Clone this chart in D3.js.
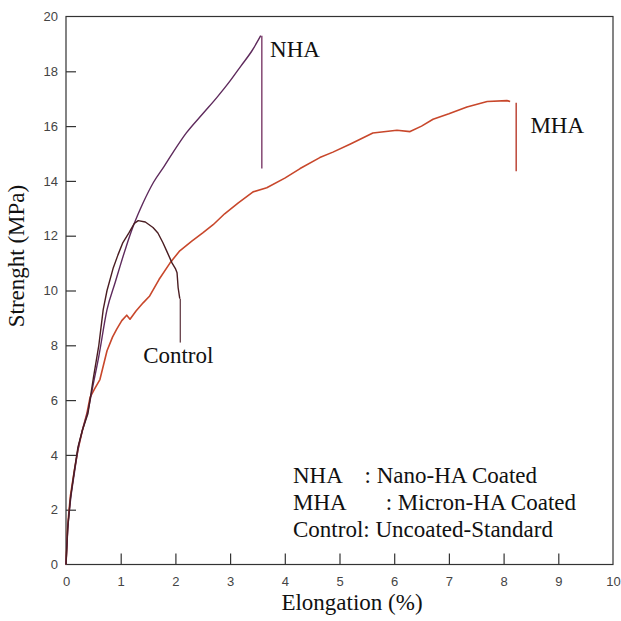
<!DOCTYPE html>
<html><head><meta charset="utf-8">
<script src="https://cdn.jsdelivr.net/npm/d3@7"></script>
<style>body{margin:0;background:#fff}</style>
</head><body>
<svg id="c" width="621" height="621"></svg>
<script>
const xTicks = [0,1,2,3,4,5,6,7,8,9,10];
const yTicks = [0,2,4,6,8,10,12,14,16,18,20];

const nhaX = [0,0.03,0.08,0.15,0.22,0.3,0.4,0.5,0.6,0.75,0.9,0.99,1.1,1.23,1.41,1.6,1.8,1.96,2.2,2.5,2.76,3.0,3.2,3.4,3.56];
const nhaY = [0,1.2,2.3,3.3,4.2,4.9,5.6,6.6,7.6,9.3,10.3,10.9,11.6,12.35,13.2,13.95,14.55,15.05,15.75,16.45,17.05,17.65,18.2,18.75,19.3];
const nhaDropX = [3.58,3.58];
const nhaDropY = [19.3,14.45];

const ctlX = [0,0.03,0.08,0.15,0.22,0.3,0.4,0.5,0.6,0.68,0.75,0.86,0.95,1.04,1.15,1.25,1.32,1.45,1.59,1.68,1.77,1.85,1.94,2.0,2.03,2.05,2.08];
const ctlY = [0,1.3,2.4,3.4,4.3,4.9,5.5,6.8,8.0,9.3,10.0,10.8,11.3,11.75,12.1,12.45,12.55,12.5,12.3,12.1,11.75,11.4,11.0,10.8,10.65,10.1,9.7];
const ctlDropX = [2.09,2.09];
const ctlDropY = [9.7,8.1];

const mhaX = [0,0.03,0.08,0.15,0.22,0.3,0.38,0.44,0.52,0.62,0.75,0.85,0.93,1.02,1.11,1.17,1.28,1.41,1.53,1.7,1.9,2.08,2.3,2.5,2.69,2.9,3.15,3.42,3.67,4.0,4.28,4.64,4.88,5.2,5.61,6.05,6.29,6.5,6.71,7.0,7.33,7.7,8.06,8.12];
const mhaY = [0,1.4,2.5,3.4,4.2,4.9,5.5,6.1,6.4,6.75,7.8,8.3,8.6,8.9,9.1,8.95,9.25,9.55,9.8,10.4,11.0,11.45,11.8,12.1,12.4,12.8,13.2,13.6,13.75,14.1,14.45,14.85,15.05,15.35,15.75,15.85,15.8,16.0,16.25,16.45,16.7,16.9,16.93,16.9];
const mhaDropX = [8.23,8.23];
const mhaDropY = [16.85,14.35];

const seriesLabels = ["NHA","MHA","Control"];
const legendLines = ["NHA    : Nano-HA Coated","MHA       : Micron-HA Coated","Control: Uncoated-Standard"];

const svg = d3.select("#c");
const L=66, R=613, T=16.5, B=564.5;
const x = d3.scaleLinear().domain([0,10]).range([L,R]);
const y = d3.scaleLinear().domain([0,20]).range([B,T]);

// frame
svg.append("rect").attr("x",L).attr("y",T).attr("width",R-L).attr("height",B-T)
  .attr("fill","none").attr("stroke","#333").attr("stroke-width",1.2);

// axes with inward ticks
const xa = svg.append("g").attr("transform",`translate(0,${B})`)
  .call(d3.axisBottom(x).tickValues(xTicks).tickSize(-11).tickPadding(12).tickFormat(d3.format("d")));
const ya = svg.append("g").attr("transform",`translate(${L},0)`)
  .call(d3.axisLeft(y).tickValues(yTicks).tickSize(-10).tickPadding(8).tickFormat(d3.format("d")));
[xa,ya].forEach(a=>{
  a.select(".domain").remove();
  a.selectAll(".tick line").attr("stroke","#333").attr("stroke-width",1.2);
  a.selectAll(".tick text").attr("fill","#444").style("font-family","Liberation Sans, Arial, sans-serif").style("font-size","13px");
});
xa.selectAll(".tick").filter(d=>d===0||d===10).select("line").remove();
ya.selectAll(".tick").filter(d=>d===0||d===20).select("line").remove();

const line = d3.line().x(d=>x(d[0])).y(d=>y(d[1]));
const smooth = d3.line().x(d=>x(d[0])).y(d=>y(d[1])).curve(d3.curveMonotoneX);
function draw(xs,ys,color,w,gen){
  svg.append("path").datum(d3.zip(xs,ys)).attr("d",(gen||line)).attr("fill","none")
    .attr("stroke",color).attr("stroke-width",w).attr("stroke-linejoin","round");
}
draw(mhaX,mhaY,"#c8472b",1.6);
draw(nhaX,nhaY,"#5e2a5c",1.4,smooth);
draw(ctlX,ctlY,"#4a1d22",1.4);
draw(nhaDropX,nhaDropY,"#7b3a68",1.4);
draw(ctlDropX,ctlDropY,"#6e4a52",1.4);
draw(mhaDropX,mhaDropY,"#b8392a",1.4);

const serif = "Liberation Serif, Times New Roman, serif";
const lab = [[3.73,18.7],[8.49,15.95],[1.41,7.55]];
seriesLabels.forEach((s,i)=>{
  svg.append("text").attr("x",x(lab[i][0])).attr("y",y(lab[i][1])).text(s)
    .attr("dominant-baseline","middle").style("font-family",serif).style("font-size","23px").attr("fill","#111");
});
legendLines.forEach((s,i)=>{
  svg.append("text").attr("x",293).attr("y",478+i*27).text(s).attr("xml:space","preserve")
    .style("white-space","pre")
    .attr("dominant-baseline","middle").style("font-family",serif).style("font-size","23px").attr("fill","#111");
});

svg.append("text").attr("x",352).attr("y",605).attr("text-anchor","middle").attr("dominant-baseline","middle")
  .text("Elongation (%)").style("font-family",serif).style("font-size","23px").attr("fill","#111");
svg.append("text").attr("transform",`translate(19,256) rotate(-90)`).attr("text-anchor","middle").attr("dominant-baseline","middle")
  .text("Strenght (MPa)").style("font-family",serif).style("font-size","23px").attr("fill","#111");
</script>
</body></html>
